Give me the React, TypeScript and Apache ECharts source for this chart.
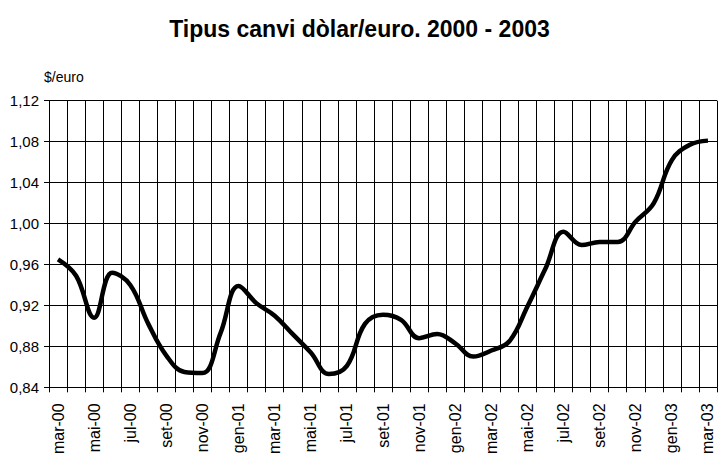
import React, { useEffect, useRef } from "react";
import * as echarts from "echarts";

const months = [
  "mar-00", "abr-00", "mai-00", "jun-00", "jul-00", "ago-00", "set-00", "oct-00", "nov-00", "des-00",
  "gen-01", "feb-01", "mar-01", "abr-01", "mai-01", "jun-01", "jul-01", "ago-01", "set-01", "oct-01", "nov-01", "des-01",
  "gen-02", "feb-02", "mar-02", "abr-02", "mai-02", "jun-02", "jul-02", "ago-02", "set-02", "oct-02", "nov-02", "des-02",
  "gen-03", "feb-03", "mar-03",
];

const rates = [
  0.965, 0.949, 0.908, 0.952, 0.94, 0.902, 0.871, 0.855, 0.854, 0.893,
  0.939, 0.922, 0.91, 0.892, 0.874, 0.853, 0.861, 0.902, 0.911, 0.906, 0.888, 0.892,
  0.883, 0.87, 0.876, 0.885, 0.919, 0.956, 0.992, 0.979, 0.982, 0.982, 1.002, 1.02,
  1.062, 1.077, 1.081,
];

const titleText = "Tipus canvi dòlar/euro. 2000 - 2003";
const unitText = "$/euro";

export default function App() {
  const ref = useRef<HTMLDivElement>(null);
  useEffect(() => {
    if (!ref.current) return;
    const chart = echarts.init(ref.current, null, { renderer: "svg" });
    const font = "'Liberation Sans', Arial, Helvetica, sans-serif";
    chart.setOption({
      animation: false,
      backgroundColor: "#ffffff",
      title: {
        text: titleText,
        left: "center",
        top: 12,
        textStyle: { fontFamily: font, fontSize: 23, fontWeight: "bold", color: "#000" },
      },
      graphic: [
        {
          type: "text",
          left: 44,
          top: 70,
          style: { text: unitText, fontFamily: font, fontSize: 14, fill: "#000" },
        },
      ],
      grid: { left: 49, top: 100.7, right: 2, bottom: 63, containLabel: false },
      xAxis: {
        type: "category",
        data: months,
        boundaryGap: true,
        axisLine: { lineStyle: { color: "#000", width: 1 } },
        axisTick: { show: true, interval: 0, length: 5, lineStyle: { color: "#000" } },
        axisLabel: {
          interval: 1,
          rotate: 90,
          margin: 16,
          fontFamily: font,
          fontSize: 16,
          color: "#000",
        },
        splitLine: { show: true, interval: 0, lineStyle: { color: "#000", width: 1 } },
      },
      yAxis: {
        type: "value",
        min: 0.84,
        max: 1.12,
        interval: 0.04,
        axisLine: { show: true, lineStyle: { color: "#000", width: 1 } },
        axisTick: { show: true, length: 5, lineStyle: { color: "#000" } },
        axisLabel: {
          margin: 10,
          fontFamily: font,
          fontSize: 15,
          color: "#000",
          formatter: (v: number) => v.toFixed(2).replace(".", ","),
        },
        splitLine: { show: true, lineStyle: { color: "#000", width: 1 } },
      },
      series: [
        {
          type: "line",
          data: rates,
          smooth: 0.4,
          symbol: "none",
          lineStyle: { color: "#000", width: 4.5 },
        },
      ],
    });
    return () => chart.dispose();
  }, []);
  return (
    <div
      ref={ref}
      style={{ position: "fixed", left: 0, top: 0, width: 719, height: 457, background: "#fff" }}
    />
  );
}
